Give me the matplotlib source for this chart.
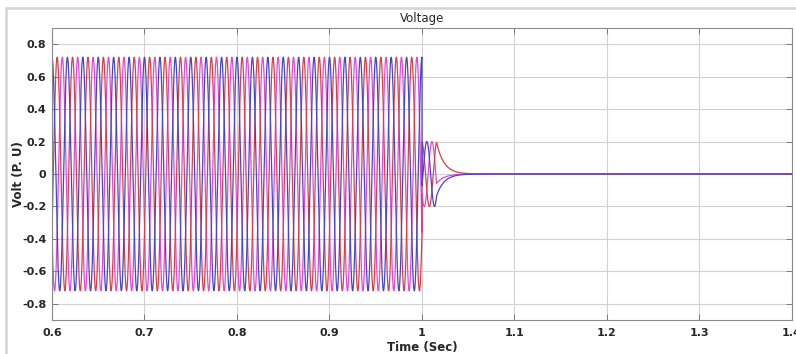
import numpy as np
import matplotlib.pyplot as plt
from matplotlib.patches import Rectangle

# Signal parameters
phase_names = ['Vc', 'Va', 'Vb']
phase_colors = ['#e048dc', '#d6404a', '#4646c8']
phase_shift_deg = [210, -30, 90]        # pre-fault phase angles
fault_amp = [0.20, 0.20, 0.20]           # amplitude while the fault rings
freq_hz = 60.0
amp_pre = 0.72
t_fault = 1.0
t_freeze = 1.0157                        # after this the phases just decay
tau = 0.008
fault_shift_deg = [218, 98, -22]         # phase during the short fault ringing

t = np.linspace(0.6, 1.4, 24001)
w = 2 * np.pi * freq_hz

fig = plt.figure(figsize=(7.96, 3.54), dpi=100)
frame = Rectangle((6 / 796, -0.1), 1.2, 1 - 8 / 354 + 0.1,
                  transform=fig.transFigure, fill=False,
                  edgecolor='#d4d4d4', linewidth=1.8, zorder=-1)
fig.patches.append(frame)
ax = fig.add_axes([52 / 796, 1 - 320 / 354, 740 / 796, 292 / 354])

for k in range(3):
    ph = np.deg2rad(phase_shift_deg[k])
    fph = np.deg2rad(fault_shift_deg[k])
    v = amp_pre * np.sin(w * t + ph)
    ring = fault_amp[k] * np.sin(w * t + fph)
    v_freeze = fault_amp[k] * np.sin(w * t_freeze + fph)
    on = (t >= t_fault) & (t < t_freeze)
    v[on] = ring[on]
    after = t >= t_freeze
    v[after] = v_freeze * np.exp(-(t[after] - t_freeze) / tau)
    ax.plot(t, v, color=phase_colors[k], linewidth=0.9, label=phase_names[k])

ax.set_xlim(0.6, 1.4)
ax.set_ylim(-0.9, 0.9)
ax.set_xticks(np.arange(0.6, 1.41, 0.1))
ax.set_xticklabels(['0.6', '0.7', '0.8', '0.9', '1', '1.1', '1.2', '1.3', '1.4'])
ax.set_yticks(np.arange(-0.8, 0.81, 0.2))
ax.set_yticklabels(['-0.8', '-0.6', '-0.4', '-0.2', '0', '0.2', '0.4', '0.6', '0.8'])
ax.grid(True, color='#d2d2d2', linewidth=0.8)
ax.set_axisbelow(True)
ax.tick_params(direction='in', length=4, width=0.7, colors='#7a7a7a',
               top=True, right=True, labelsize=8, labelcolor='#262626')
ax.tick_params(axis='y', pad=4)
ax.tick_params(axis='x', pad=6)
for lab in ax.get_xticklabels() + ax.get_yticklabels():
    lab.set_fontweight('bold')
for s in ax.spines.values():
    s.set_color('#8a8a8a')
    s.set_linewidth(0.8)

ax.set_title('Voltage', fontsize=8.5, color='#262626', pad=4)
ax.set_xlabel('Time (Sec)', fontsize=8.5, fontweight='bold', color='#262626', labelpad=2)
ax.set_ylabel('Volt (P. U)', fontsize=8.5, fontweight='bold', color='#262626')
ax.yaxis.set_label_coords(-27 / 740, 0.5)

fig.savefig('out.png', dpi=100)
